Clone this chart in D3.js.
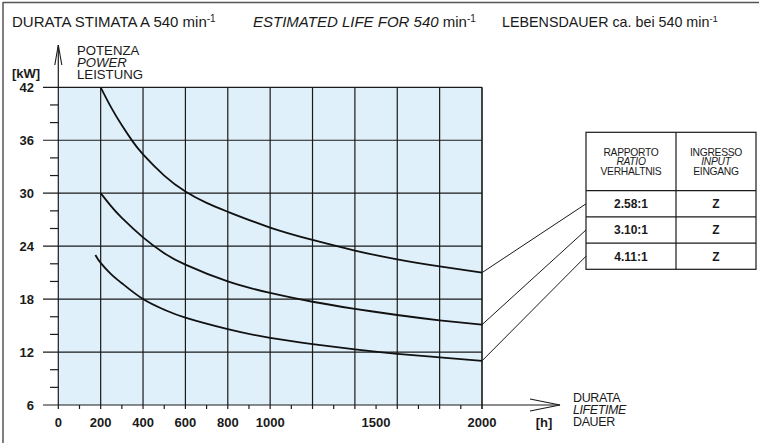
<!DOCTYPE html>
<html><head><meta charset="utf-8">
<script src="https://cdn.jsdelivr.net/npm/d3@7/dist/d3.min.js"></script>
<style>
html,body{margin:0;padding:0;background:#fff;}
svg{display:block;font-family:"Liberation Sans",Arial,Helvetica,sans-serif;}
</style></head>
<body>
<svg id="c" width="759" height="443"></svg>
<script>
// ---- data ----
const ratios = ["2.58:1", "3.10:1", "4.11:1"];
const inputs = ["Z", "Z", "Z"];
const hoursA = [200, 250, 300, 350, 400, 500, 600, 700, 800, 1000, 1200, 1400, 1600, 1800, 2000];
const kwA    = [42, 39.7, 37.7, 35.9, 34.4, 32.0, 30.2, 28.9, 27.9, 26.1, 24.7, 23.5, 22.5, 21.7, 21.0];
const hoursB = [200, 250, 300, 400, 500, 600, 800, 1000, 1200, 1400, 1600, 1800, 2000];
const kwB    = [30, 28.5, 27.2, 25.0, 23.2, 21.9, 20.0, 18.7, 17.7, 16.9, 16.2, 15.6, 15.1];
const hoursC = [175, 200, 250, 300, 400, 500, 600, 800, 1000, 1200, 1400, 1600, 1800, 2000];
const kwC    = [23, 22.1, 20.8, 19.8, 18.0, 16.8, 15.9, 14.6, 13.6, 12.9, 12.3, 11.8, 11.4, 11.0];
const xTickLabels = [0, 200, 400, 600, 800, 1000, 1500, 2000];
const xGrid = [0, 200, 400, 600, 800, 1000, 1200, 1400, 1600, 1800, 2000];
const xMinor = [100, 300, 500, 700, 900, 1100, 1300, 1500, 1700, 1900];
const yTicks = [6, 12, 18, 24, 30, 36, 42];
const yMinor = [8, 10, 14, 16, 20, 22, 26, 28, 32, 34, 38, 40];

// ---- layout ----
const svg = d3.select("#c");
const x = d3.scaleLinear().domain([0, 2000]).range([58.3, 482]);
const y = d3.scaleLinear().domain([6, 42]).range([405, 87.3]);
const ink = "#1a1a1a";

// frame
svg.append("line").attr("x1",3).attr("x2",3).attr("y1",2).attr("y2",443).attr("stroke","#555").attr("stroke-width",1.5);
svg.append("line").attr("x1",3).attr("x2",759).attr("y1",2.5).attr("y2",2.5).attr("stroke","#555").attr("stroke-width",1.5);

// title
const t1 = svg.append("text").attr("x",12).attr("y",27).attr("font-size",15).attr("fill",ink);
t1.append("tspan").text("DURATA STIMATA A 540 min");
t1.append("tspan").attr("font-size",10).attr("dy",-5).text("-1");
const t2 = svg.append("text").attr("x",253).attr("y",27).attr("font-size",15).attr("fill",ink);
t2.append("tspan").attr("font-style","italic").text("ESTIMATED LIFE FOR 540");
t2.append("tspan").text(" min");
t2.append("tspan").attr("font-size",10).attr("dy",-5).text("-1");
const t3 = svg.append("text").attr("x",502).attr("y",27).attr("font-size",14.3).attr("fill",ink);
t3.append("tspan").text("LEBENSDAUER ca. bei 540 min");
t3.append("tspan").attr("font-size",9.5).attr("dy",-5).text("-1");

// plot background
svg.append("rect").attr("x",x(0)).attr("y",y(42)).attr("width",x(2000)-x(0)).attr("height",y(6)-y(42)).attr("fill","#dff0fa");

// grid verticals (extend below axis as ticks)
svg.append("g").selectAll("line").data(xGrid).join("line")
  .attr("x1",d=>x(d)).attr("x2",d=>x(d)).attr("y1",y(42)).attr("y2",y(6)+4)
  .attr("stroke",(d)=>d===2000?"#444":ink).attr("stroke-width",d=>d===2000?2:1.2);
svg.append("g").selectAll("line").data(xMinor).join("line")
  .attr("x1",d=>x(d)).attr("x2",d=>x(d)).attr("y1",y(6)).attr("y2",y(6)+4)
  .attr("stroke",ink).attr("stroke-width",1.2);
// grid horizontals (extend left as ticks)
svg.append("g").selectAll("line").data(yTicks).join("line")
  .attr("x1",43).attr("x2",x(2000)).attr("y1",d=>y(d)).attr("y2",d=>y(d))
  .attr("stroke",ink).attr("stroke-width",1.2);
svg.append("g").selectAll("line").data(yMinor).join("line")
  .attr("x1",50).attr("x2",x(0)).attr("y1",d=>y(d)).attr("y2",d=>y(d))
  .attr("stroke",ink).attr("stroke-width",1.2);

// axes arrows
svg.append("line").attr("x1",x(0)).attr("x2",x(0)).attr("y1",y(42)).attr("y2",45).attr("stroke",ink).attr("stroke-width",1.2);
svg.append("path").attr("d",`M${x(0)-3.5},65 L${x(0)},45 L${x(0)+3.5},65`).attr("fill","none").attr("stroke",ink).attr("stroke-width",1.1);
svg.append("line").attr("x1",x(2000)).attr("x2",560).attr("y1",y(6)).attr("y2",y(6)).attr("stroke",ink).attr("stroke-width",1.2);
svg.append("path").attr("d",`M530,${y(6)-6} L560,${y(6)} L530,${y(6)+6}`).attr("fill","none").attr("stroke",ink).attr("stroke-width",1.1);

// tick labels
svg.append("g").selectAll("text").data(xTickLabels).join("text")
  .attr("x",d=>x(d)).attr("y",427).attr("text-anchor","middle")
  .attr("font-size",13).attr("font-weight","bold").attr("fill",ink).text(d=>d);
svg.append("g").selectAll("text").data(yTicks).join("text")
  .attr("x",34).attr("y",d=>y(d)).attr("dy","0.36em").attr("text-anchor","end")
  .attr("font-size",13).attr("font-weight","bold").attr("fill",ink).text(d=>d);

svg.append("text").attr("x",544).attr("y",427).attr("text-anchor","middle").attr("font-size",13).attr("font-weight","bold").attr("fill",ink).text("[h]");
svg.append("text").attr("x",12).attr("y",78).attr("font-size",13).attr("font-weight","bold").attr("fill",ink).text("[kW]");

// axis titles
const yl = [["POTENZA","normal"],["POWER","italic"],["LEISTUNG","normal"]];
svg.append("g").selectAll("text").data(yl).join("text")
  .attr("x",77).attr("y",(d,i)=>55+i*12.2).attr("font-size",13.2)
  .attr("font-style",d=>d[1]).attr("fill",ink).text(d=>d[0]);
const xl = [["DURATA","normal"],["LIFETIME","italic"],["DAUER","normal"]];
svg.append("g").selectAll("text").data(xl).join("text")
  .attr("x",573).attr("y",(d,i)=>402+i*12).attr("font-size",12.5).attr("letter-spacing",-0.4)
  .attr("font-style",d=>d[1]).attr("fill",ink).text(d=>d[0]);

// curves
const series = [
  {h: hoursA, k: kwA},
  {h: hoursB, k: kwB},
  {h: hoursC, k: kwC}
];
const line = d3.line().x(d=>x(d[0])).y(d=>y(d[1])).curve(d3.curveNatural);
svg.append("g").selectAll("path").data(series).join("path")
  .attr("d",s=>line(s.h.map((h,i)=>[h,s.k[i]])))
  .attr("fill","none").attr("stroke","#111").attr("stroke-width",1.8);

// table
const tx0 = 586, tx1 = 676, tx2 = 756, ty0 = 132.3, tyH = 190.7, rowH = 26.2;
const tbl = svg.append("g");
tbl.append("rect").attr("x",tx0).attr("y",ty0).attr("width",tx2-tx0).attr("height",tyH+rowH*3-ty0)
  .attr("fill","#fff").attr("stroke",ink).attr("stroke-width",1.2);
tbl.append("line").attr("x1",tx1).attr("x2",tx1).attr("y1",ty0).attr("y2",tyH+rowH*3).attr("stroke",ink).attr("stroke-width",1.2);
tbl.selectAll("line.r").data([0,1,2]).join("line").attr("class","r")
  .attr("x1",tx0).attr("x2",tx2).attr("y1",i=>tyH+i*rowH).attr("y2",i=>tyH+i*rowH)
  .attr("stroke",ink).attr("stroke-width",1.2);
const h1 = [["RAPPORTO","normal"],["RATIO","italic"],["VERHALTNIS","normal"]];
const h2 = [["INGRESSO","normal"],["INPUT","italic"],["EINGANG","normal"]];
[[h1,(tx0+tx1)/2],[h2,(tx1+tx2)/2]].forEach(([hd,cx])=>{
  tbl.append("g").selectAll("text").data(hd).join("text")
    .attr("x",cx).attr("y",(d,i)=>155.5+i*9.8).attr("text-anchor","middle")
    .attr("font-size",10.3).attr("letter-spacing",-0.3).attr("font-style",d=>d[1]).attr("fill",ink).text(d=>d[0]);
});
tbl.append("g").selectAll("text").data(ratios).join("text")
  .attr("x",(tx0+tx1)/2).attr("y",(d,i)=>tyH+rowH*(i+0.5)).attr("dy","0.36em").attr("text-anchor","middle")
  .attr("font-size",12).attr("font-weight","bold").attr("fill",ink).text(d=>d);
tbl.append("g").selectAll("text").data(inputs).join("text")
  .attr("x",(tx1+tx2)/2).attr("y",(d,i)=>tyH+rowH*(i+0.5)).attr("dy","0.36em").attr("text-anchor","middle")
  .attr("font-size",12).attr("font-weight","bold").attr("fill",ink).text(d=>d);

// leader lines from curve ends to table rows
svg.append("g").selectAll("line").data(series).join("line")
  .attr("x1",s=>x(s.h[s.h.length-1])).attr("y1",s=>y(s.k[s.k.length-1]))
  .attr("x2",tx0).attr("y2",(s,i)=>tyH+rowH*(i+0.5))
  .attr("stroke",ink).attr("stroke-width",1);
</script>
</body></html>
